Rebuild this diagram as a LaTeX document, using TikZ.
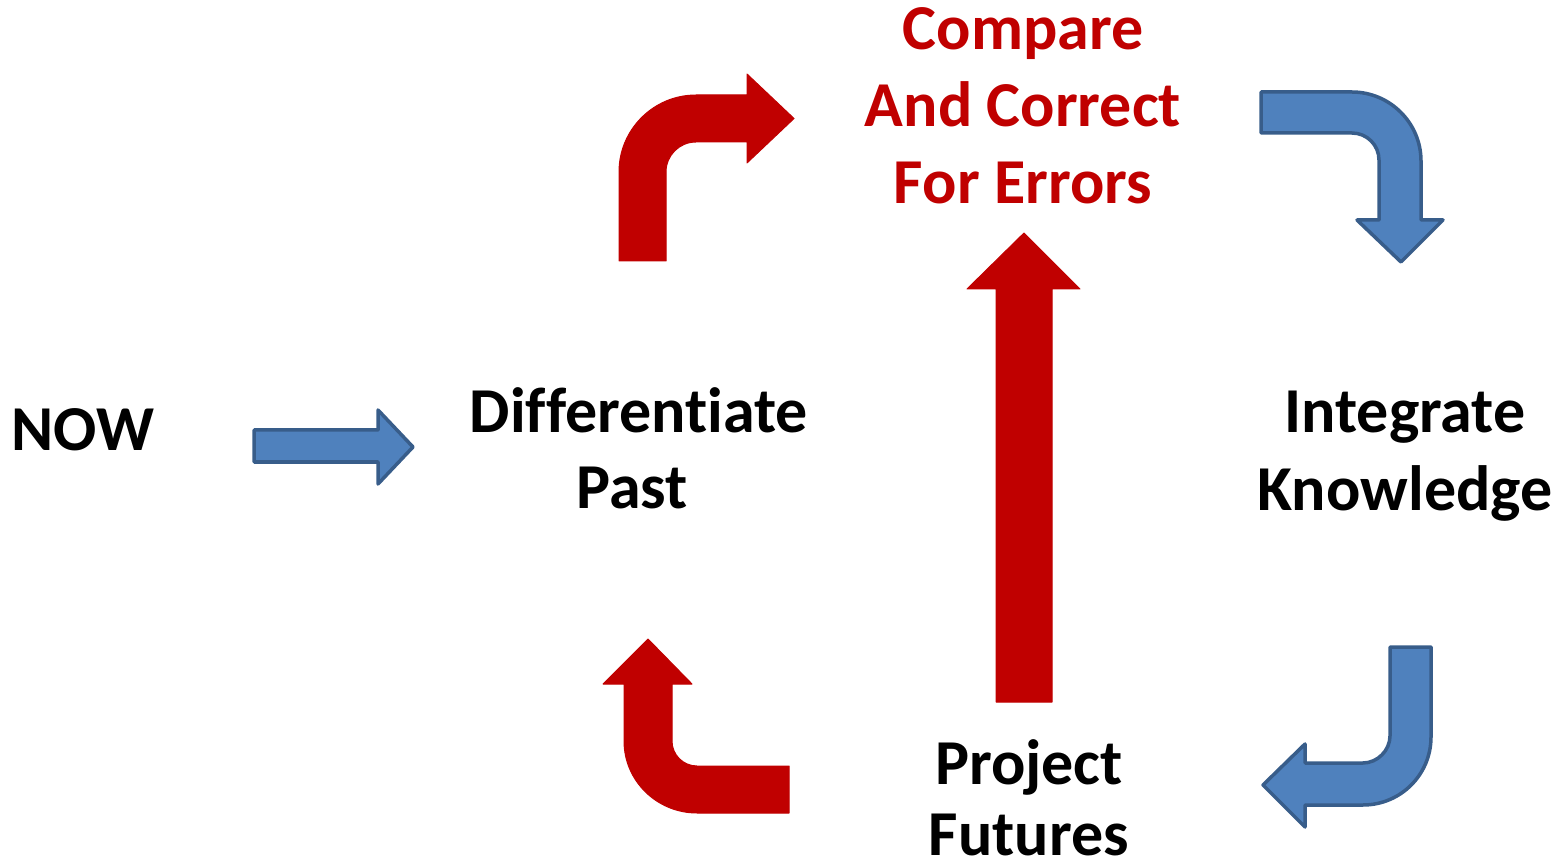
\documentclass[tikz,border=0pt]{standalone}
\usepackage{fontspec}
\setmainfont[Ligatures=NoCommon]{Carlito}
\definecolor{darkred}{HTML}{C00000}
\definecolor{bluefill}{HTML}{4F81BD}
\definecolor{blueline}{HTML}{385D8A}
\begin{document}
\begin{tikzpicture}[x=1pt,y=-1pt,
  lbl/.style={font=\fontsize{64}{77}\selectfont\bfseries, inner sep=0pt, anchor=base},
  redarrow/.style={fill=darkred, draw=darkred, line width=1pt, line join=round},
  bluearrow/.style={fill=bluefill, draw=blueline, line width=3.5pt, line join=round}]
\useasboundingbox (0,0) rectangle (1564,866);
% texts
\node[lbl] (now) at (83,450) {NOW};
\node[lbl] (diff1) at (639,432) {Differentiate};
\node[lbl] (diff2) at (632,508) {Past};
\node[lbl, text=darkred] (cmp1) at (1023,50) {Compare};
\node[lbl, text=darkred] (cmp2) at (1023,127) {And Correct};
\node[lbl, text=darkred] (cmp3) at (1023,204) {For Errors};
\node[lbl] (int1) at (1405,433) {Integrate};
\node[lbl] (int2) at (1405,510) {Knowledge};
\node[lbl] (proj1) at (1029,784) {Project};
\node[lbl, text depth=0pt] (proj2) at (1029,855) {Futures};
% NOW arrow
\draw[bluearrow] (254,430) -- (378,430) -- (378,410) -- (413,447) -- (378,484) -- (378,462) -- (254,462) -- cycle;
% top-left red bent arrow
\draw[redarrow] (619,261) -- (619,172) .. controls (619,129.5) and (653.5,95) .. (696,95)
  -- (747,95) -- (747,74) -- (794,118.5) -- (747,163) -- (747,142) -- (696,142)
  .. controls (679.4,142) and (666,155.4) .. (666,172) -- (666,261) -- cycle;
% top-right blue bent arrow
\draw[bluearrow] (1261,92) -- (1352,92) .. controls (1390,92) and (1421,123) .. (1421,161)
  -- (1421,220) -- (1443,220) -- (1401,262) -- (1357,220) -- (1379,220) -- (1379,160)
  .. controls (1379,145.1) and (1366.9,133) .. (1352,133) -- (1261,133) -- cycle;
% big red up arrow
\draw[redarrow] (1024,233) -- (1080,289) -- (1052,289) -- (1052,702) -- (996,702) -- (996,289) -- (967,289) -- cycle;
% bottom-right blue bent arrow
\draw[bluearrow] (1390,647) -- (1431,647) -- (1431,737) .. controls (1431,774.6) and (1400.6,805) .. (1363,805)
  -- (1305,805) -- (1305,827) -- (1263,785) -- (1305,744) -- (1305,763) -- (1363,763)
  .. controls (1377.4,763) and (1390,750.4) .. (1390,736) -- cycle;
% bottom-left red bent arrow
\draw[redarrow] (648,639) -- (692,684) -- (672,684) -- (672,741) .. controls (672,754.8) and (683.2,766) .. (697,766)
  -- (789,766) -- (789,813) -- (697,813) .. controls (657,813) and (624,781) .. (624,741)
  -- (624,684) -- (603,684) -- cycle;
\end{tikzpicture}
\end{document}
